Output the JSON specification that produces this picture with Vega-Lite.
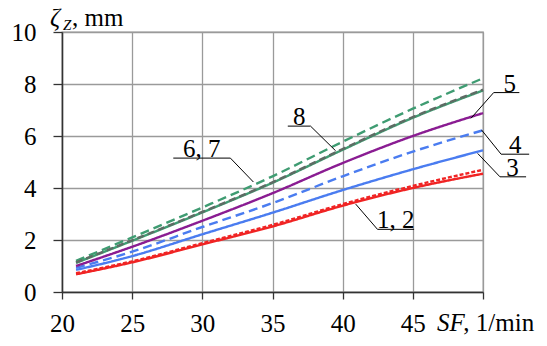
{
  "$schema": "https://vega.github.io/schema/vega-lite/v6.json",
  "width": 421,
  "height": 260,
  "autosize": {"type": "none"},
  "padding": {"left": 62, "top": 32, "right": 64, "bottom": 54},
  "background": "white",
  "config": {
    "view": {"stroke": "#9a9a9a", "strokeWidth": 1.3},
    "font": "Times New Roman, Liberation Serif, serif"
  },
  "datasets": {
    "curves": [
      {"id": "1", "x": 21, "y": 0.68}, {"id": "1", "x": 25, "y": 1.14}, {"id": "1", "x": 30, "y": 1.83}, {"id": "1", "x": 35, "y": 2.52}, {"id": "1", "x": 40, "y": 3.32}, {"id": "1", "x": 45, "y": 4.0}, {"id": "1", "x": 50, "y": 4.55},
      {"id": "2", "x": 21, "y": 0.72}, {"id": "2", "x": 25, "y": 1.18}, {"id": "2", "x": 30, "y": 1.88}, {"id": "2", "x": 35, "y": 2.58}, {"id": "2", "x": 40, "y": 3.38}, {"id": "2", "x": 45, "y": 4.08}, {"id": "2", "x": 50, "y": 4.7},
      {"id": "3", "x": 21, "y": 0.85}, {"id": "3", "x": 25, "y": 1.38}, {"id": "3", "x": 30, "y": 2.22}, {"id": "3", "x": 35, "y": 3.05}, {"id": "3", "x": 40, "y": 3.92}, {"id": "3", "x": 45, "y": 4.72}, {"id": "3", "x": 50, "y": 5.45},
      {"id": "4", "x": 21, "y": 0.93}, {"id": "4", "x": 25, "y": 1.55}, {"id": "4", "x": 30, "y": 2.5}, {"id": "4", "x": 35, "y": 3.42}, {"id": "4", "x": 40, "y": 4.45}, {"id": "4", "x": 45, "y": 5.4}, {"id": "4", "x": 50, "y": 6.22},
      {"id": "5", "x": 21, "y": 1.0}, {"id": "5", "x": 25, "y": 1.74}, {"id": "5", "x": 30, "y": 2.74}, {"id": "5", "x": 35, "y": 3.8}, {"id": "5", "x": 40, "y": 4.96}, {"id": "5", "x": 45, "y": 6.0}, {"id": "5", "x": 50, "y": 6.88},
      {"id": "6", "x": 21, "y": 1.2}, {"id": "6", "x": 25, "y": 2.1}, {"id": "6", "x": 30, "y": 3.25}, {"id": "6", "x": 35, "y": 4.45}, {"id": "6", "x": 40, "y": 5.78}, {"id": "6", "x": 45, "y": 7.05}, {"id": "6", "x": 50, "y": 8.22},
      {"id": "7", "x": 21, "y": 1.12}, {"id": "7", "x": 25, "y": 1.97}, {"id": "7", "x": 30, "y": 3.06}, {"id": "7", "x": 35, "y": 4.2}, {"id": "7", "x": 40, "y": 5.47}, {"id": "7", "x": 45, "y": 6.7}, {"id": "7", "x": 50, "y": 7.75},
      {"id": "8", "x": 21, "y": 1.14}, {"id": "8", "x": 25, "y": 1.99}, {"id": "8", "x": 30, "y": 3.08}, {"id": "8", "x": 35, "y": 4.22}, {"id": "8", "x": 40, "y": 5.5}, {"id": "8", "x": 45, "y": 6.73}, {"id": "8", "x": 50, "y": 7.78}
    ],
    "leaders": [
      {"x": 27.93, "y": 5.15, "x2": 32.0, "y2": 5.15},
      {"x": 32.0, "y": 5.15, "x2": 33.64, "y2": 4.23},
      {"x": 36.09, "y": 6.38, "x2": 37.71, "y2": 6.38},
      {"x": 37.71, "y": 6.38, "x2": 39.5, "y2": 5.43},
      {"x": 50.76, "y": 7.67, "x2": 52.59, "y2": 7.67},
      {"x": 50.76, "y": 7.67, "x2": 49.14, "y2": 6.68},
      {"x": 51.29, "y": 5.3, "x2": 53.29, "y2": 5.3},
      {"x": 51.29, "y": 5.3, "x2": 49.9, "y2": 6.23},
      {"x": 51.21, "y": 4.43, "x2": 53.07, "y2": 4.43},
      {"x": 51.21, "y": 4.43, "x2": 49.62, "y2": 5.33},
      {"x": 42.48, "y": 2.41, "x2": 45.09, "y2": 2.41},
      {"x": 42.48, "y": 2.41, "x2": 40.93, "y2": 3.38}
    ],
    "labels": [
      {"x": 29.96, "y": 5.19, "t": "6, 7"},
      {"x": 36.9, "y": 6.42, "t": "8"},
      {"x": 51.9, "y": 7.71, "t": "5"},
      {"x": 52.29, "y": 5.34, "t": "4"},
      {"x": 52.1, "y": 4.47, "t": "3"},
      {"x": 43.79, "y": 2.45, "t": "1, 2"}
    ],
    "italic": [
      {"x": 19.14, "y": 10.23, "t": "ζ"},
      {"x": 46.73, "y": -1.5, "t": "SF"}
    ],
    "sub": [
      {"x": 20.07, "y": 10.08, "t": "Z"}
    ],
    "plain": [
      {"x": 20.71, "y": 10.23, "t": ", mm"},
      {"x": 48.6, "y": -1.5, "t": ", 1/min"}
    ]
  },
  "encoding": {
    "x": {"field": "x", "type": "quantitative", "scale": {"domain": [20, 50], "nice": false, "zero": false},
      "axis": {"values": [20, 25, 30, 35, 40, 45, 50], "title": null, "grid": true, "gridColor": "#9a9a9a", "gridWidth": 1.3,
        "domainColor": "#333333", "domainWidth": 1.5, "tickColor": "#333333", "tickWidth": 1.3, "tickSize": 7,
        "labelFont": "Times New Roman, Liberation Serif, serif", "labelFontSize": 25, "labelColor": "#000000", "labelBaseline": "alphabetic", "labelPadding": 32,
        "labelExpr": "datum.value == 50 ? '' : datum.label", "labelFlush": false, "labelOverlap": false}},
    "y": {"field": "y", "type": "quantitative", "scale": {"domain": [0, 10], "nice": false},
      "axis": {"values": [0, 2, 4, 6, 8, 10], "title": null, "grid": true, "gridColor": "#9a9a9a", "gridWidth": 1.3,
        "domainColor": "#333333", "domainWidth": 1.5, "tickColor": "#333333", "tickWidth": 1.3, "tickSize": 9,
        "labelFont": "Times New Roman, Liberation Serif, serif", "labelFontSize": 25, "labelColor": "#000000", "labelPadding": 17, "labelFlush": false, "labelOverlap": false}}
  },
  "layer": [
    {
      "data": {"name": "curves"},
      "mark": {"type": "line", "interpolate": "monotone", "strokeWidth": 2.4},
      "encoding": {
        "detail": {"field": "id"},
        "color": {"field": "id", "type": "nominal", "legend": null,
          "scale": {"domain": ["1", "2", "3", "4", "5", "6", "7", "8"],
            "range": ["#f02424", "#f02424", "#4a7cf0", "#4a7cf0", "#8a1c92", "#3f9c72", "#3f9c72", "#5e6b64"]}},
        "strokeDash": {"field": "id", "type": "nominal", "legend": null,
          "scale": {"domain": ["1", "2", "3", "4", "5", "6", "7", "8"],
            "range": [[1, 0], [4, 2], [1, 0], [9, 5], [1, 0], [9, 5], [1, 0], [7, 4]]}}
      }
    },
    {
      "data": {"name": "leaders"},
      "mark": {"type": "rule", "color": "#000000", "strokeWidth": 1},
      "encoding": {"x2": {"field": "x2"}, "y2": {"field": "y2"}}
    },
    {
      "data": {"name": "labels"},
      "mark": {"type": "text", "font": "Times New Roman, Liberation Serif, serif", "fontSize": 25, "align": "center", "baseline": "alphabetic", "color": "#000000"},
      "encoding": {"text": {"field": "t"}}
    },
    {
      "data": {"name": "italic"},
      "mark": {"type": "text", "font": "Times New Roman, Liberation Serif, serif", "fontStyle": "italic", "fontSize": 25, "align": "left", "baseline": "alphabetic", "color": "#000000"},
      "encoding": {"text": {"field": "t"}}
    },
    {
      "data": {"name": "sub"},
      "mark": {"type": "text", "font": "Times New Roman, Liberation Serif, serif", "fontStyle": "italic", "fontSize": 15, "align": "left", "baseline": "alphabetic", "color": "#000000"},
      "encoding": {"text": {"field": "t"}}
    },
    {
      "data": {"name": "plain"},
      "mark": {"type": "text", "font": "Times New Roman, Liberation Serif, serif", "fontSize": 25, "align": "left", "baseline": "alphabetic", "color": "#000000"},
      "encoding": {"text": {"field": "t"}}
    }
  ]
}
